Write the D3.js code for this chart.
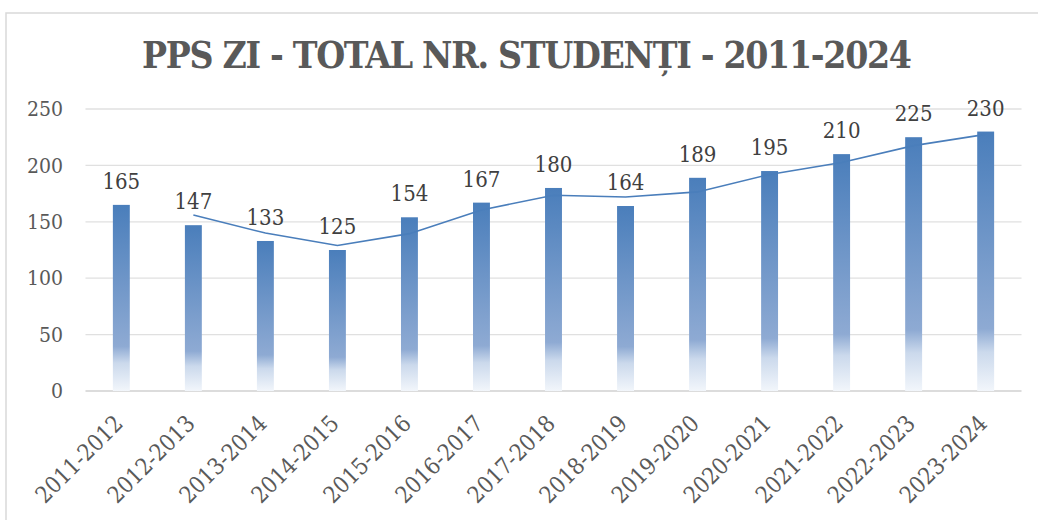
<!DOCTYPE html>
<meta charset="utf-8">
<script src="https://cdn.jsdelivr.net/npm/d3@7"></script>
<style>
body { margin: 0; background: #fff; }
text { font-family: 'DejaVu Serif Condensed', 'DejaVu Serif', serif; font-stretch: condensed; }
</style>
<svg class="chart" width="1038" height="520"></svg>
<script>

var years = ["2011-2012","2012-2013","2013-2014","2014-2015","2015-2016","2016-2017","2017-2018",
             "2018-2019","2019-2020","2020-2021","2021-2022","2022-2023","2023-2024"];
var students = [165, 147, 133, 125, 154, 167, 180, 164, 189, 195, 210, 225, 230];
// trend line values (starts at the 2nd year)
var trendYears = years.slice(1);
var trend = [156, 140, 129, 139.5, 160.5, 173.5, 172, 176.5, 192, 202.5, 217.5, 227.5];
var yTicks = [0, 50, 100, 150, 200, 250];

var svg = d3.select(".chart");

// outer border
svg.append("rect").attr("x", 6).attr("y", 13).attr("width", 1060).attr("height", 540)
    .attr("fill", "none").attr("stroke", "#d9d9d9").attr("stroke-width", 1.5);

var x = d3.scaleBand().domain(years).range([85.5, 1021.5]).paddingInner(0.765).paddingOuter(0.38);
var y = d3.scaleLinear().domain([0, 250]).range([391, 109]);

var grad = svg.append("defs").append("linearGradient").attr("id", "barfill")
    .attr("x1", 0).attr("y1", 0).attr("x2", 0).attr("y2", 1);
grad.append("stop").attr("offset", 0).attr("stop-color", "#4a7ebb");
grad.append("stop").attr("offset", 0.76).attr("stop-color", "#8eaad3");
grad.append("stop").attr("offset", 0.85).attr("stop-color", "#cbd9ec");
grad.append("stop").attr("offset", 1).attr("stop-color", "#f2f6fb");

// gridlines
svg.append("g").selectAll("line").data(yTicks).enter().append("line")
    .attr("x1", 85.5).attr("x2", 1021.5)
    .attr("y1", function(d){ return y(d); }).attr("y2", function(d){ return y(d); })
    .attr("stroke", function(d){ return d == 0 ? "#d0d0d0" : "#e0e0e0"; })
    .attr("stroke-width", function(d){ return d == 0 ? 1.5 : 1.3; });

// y axis labels
var yAxis = d3.axisLeft(y).tickValues(yTicks).tickSize(0).tickPadding(0);
var ya = svg.append("g").attr("transform", "translate(63,0)").call(yAxis);
ya.select(".domain").remove();
ya.selectAll("text").attr("font-size", "21px").attr("fill", "#595959")
    .style("font-family", "'DejaVu Serif Condensed', 'DejaVu Serif', serif");

// bars
svg.append("g").selectAll("rect").data(students).enter().append("rect")
    .attr("x", function(d, i){ return x(years[i]); })
    .attr("width", x.bandwidth())
    .attr("y", function(d){ return y(d); })
    .attr("height", function(d){ return y(0) - y(d); })
    .attr("fill", "url(#barfill)");

// trend line
var line = d3.line()
    .x(function(d, i){ return x(trendYears[i]) + x.bandwidth() / 2; })
    .y(function(d){ return y(d); });
svg.append("path").datum(trend).attr("d", line)
    .attr("fill", "none").attr("stroke", "#4a7ebb").attr("stroke-width", 1.6);

// data labels
svg.append("g").selectAll("text").data(students).enter().append("text")
    .attr("x", function(d, i){ return x(years[i]) + x.bandwidth() / 2; })
    .attr("y", function(d){ return y(d) - 16; })
    .attr("text-anchor", "middle").attr("font-size", "22px").attr("fill", "#404040")
    .text(function(d){ return d; });

// x axis labels
var xAxis = d3.axisBottom(x).tickSize(0).tickPadding(0);
var xa = svg.append("g").attr("transform", "translate(0,391)").call(xAxis);
xa.select(".domain").remove();
xa.selectAll("text")
    .attr("font-size", "23px").attr("fill", "#595959")
    .style("font-family", "'DejaVu Serif Condensed', 'DejaVu Serif', serif")
    .attr("text-anchor", "end").attr("dy", null).attr("y", 0)
    .attr("transform", "translate(3,34) rotate(-45)");

// title
svg.append("text").attr("x", 527).attr("y", 68).attr("text-anchor", "middle")
    .attr("font-size", "37px").attr("font-weight", "bold").attr("fill", "#595959")
    .attr("textLength", 770).attr("lengthAdjust", "spacing")
    .text("PPS ZI - TOTAL NR. STUDENȚI - 2011-2024");

</script>
